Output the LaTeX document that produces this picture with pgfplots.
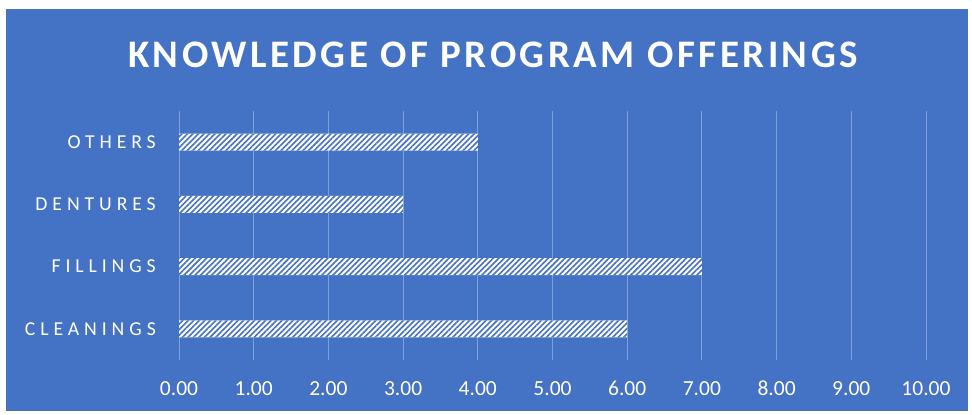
\documentclass[border=0pt]{standalone}
\usepackage{fontspec}
\setmainfont{Carlito}
\usepackage{pgfplots}
\pgfplotsset{compat=1.18}
\usetikzlibrary{patterns.meta}
\definecolor{bg}{HTML}{4472C4}
\definecolor{gridc}{HTML}{7F9FD8}
\begin{document}
\begin{tikzpicture}[x=1pt,y=1pt]
\fill[white] (0,0) rectangle (972,415);
\fill[bg] (6,4) rectangle (968,406);
\node[anchor=base, text=white, inner sep=0pt, font=\fontsize{39}{41}\selectfont\bfseries\addfontfeatures{LetterSpace=9}] at (493,347.7) {KNOWLEDGE OF PROGRAM OFFERINGS};
\begin{axis}[
  at={(179pt,55pt)}, anchor=south west,
  scale only axis, width=747pt, height=249pt,
  xmin=0, xmax=10, ymin=-0.5, ymax=3.5,
  xtick={0,1,...,10}, ytick={0,1,2,3},
  yticklabels={CLEANINGS,FILLINGS,DENTURES,OTHERS},
  axis line style={draw=none},
  major tick length=0pt,
  xmajorgrids, grid style={gridc, line width=0.9pt},
  /pgf/number format/assume math mode=true,
  /pgf/number format/fixed, /pgf/number format/fixed zerofill, /pgf/number format/precision=2,
  xticklabel style={text=white, font=\fontsize{21.5}{24}\selectfont, anchor=base, inner sep=0pt, yshift=-36pt},
  yticklabel style={text=white, font=\fontsize{19.7}{22}\selectfont\addfontfeatures{LetterSpace=25}, anchor=east, inner sep=0pt, xshift=-23pt},
  clip=false,
]
\addplot[xbar, bar width=17pt, fill=white, draw=none,
  postaction={pattern={Lines[angle=45,distance=3.9pt,line width=1.6pt]}, pattern color=bg}]
  coordinates {(6,0) (7,1) (3,2) (4,3)};
\end{axis}
\end{tikzpicture}
\end{document}
